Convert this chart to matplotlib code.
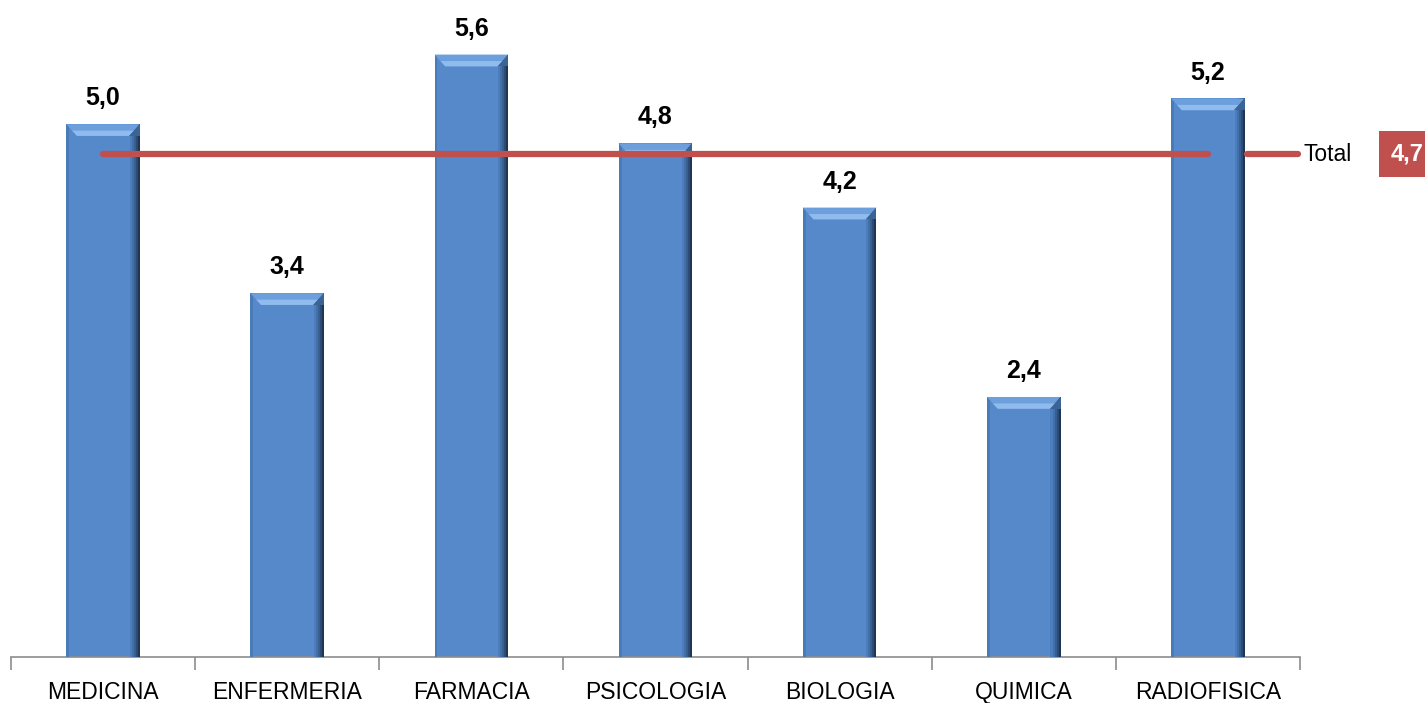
import numpy as np
import matplotlib.pyplot as plt
from matplotlib.patches import Polygon

categories = ["MEDICINA", "ENFERMERIA", "FARMACIA", "PSICOLOGIA", "BIOLOGIA", "QUIMICA", "RADIOFISICA"]
values = [4.98, 3.40, 5.63, 4.80, 4.20, 2.43, 5.22]
labels = ["5,0", "3,4", "5,6", "4,8", "4,2", "2,4", "5,2"]
total = 4.7
total_label = "4,7"

plt.rcParams['font.family'] = ['Liberation Sans', 'DejaVu Sans']

YMAX = 6.14

fig = plt.figure(figsize=(14.25, 7.03), dpi=100)
ax = fig.add_axes([11 / 1425, 46 / 703, 1289 / 1425, 657 / 703])
ax.set_xlim(-0.5, len(categories) - 0.5)
ax.set_ylim(0, YMAX)

x = np.arange(len(categories))
w = 0.4
ax.bar(x, values, width=w, color='#5589CA', zorder=2)

# left edge, slightly darker
ax.bar(x - w / 2 + 0.008, values, width=0.016, color='#4A7BB9', zorder=3)

# right-edge shading, getting darker outward
sw = 0.011
shades = ['#4C7EBD', '#4370AA', '#385F92', '#2C4B75', '#1E3553']
for i, c in enumerate(shades):
    pos = x + w / 2 - (len(shades) - i - 0.5) * sw
    ax.bar(pos, values, width=sw, color=c, zorder=3)

# top bevel
bev_h = 0.11
bev_w = 0.058
for xi, v, lab in zip(x, values, labels):
    outer = [(xi - w / 2, v), (xi + w / 2, v), (xi + w / 2 - bev_w, v - bev_h),
             (xi - w / 2 + bev_w, v - bev_h)]
    ax.add_patch(Polygon(outer, closed=True, fc='#6D9FDC', lw=0, zorder=4))
    band = [(xi - w / 2 + bev_w * 0.55, v - bev_h * 0.55), (xi + w / 2 - bev_w * 0.55, v - bev_h * 0.55),
            (xi + w / 2 - bev_w, v - bev_h), (xi - w / 2 + bev_w, v - bev_h)]
    ax.add_patch(Polygon(band, closed=True, fc='#8FBBEE', lw=0, zorder=5))
    # right bevel corner darker
    corner = [(xi + w / 2, v), (xi + w / 2, v - bev_h), (xi + w / 2 - bev_w, v - bev_h)]
    ax.add_patch(Polygon(corner, closed=True, fc='#3A6396', lw=0, zorder=5))
    ax.text(xi, v + 0.13, lab, ha='center', va='bottom', fontsize=18, fontweight='bold',
            color='black', zorder=6)

# total line
ax.plot([x[0], x[-1]], [total, total], color='#C0504D', lw=4.5, solid_capstyle='round', zorder=7)

for s in ['top', 'right', 'left']:
    ax.spines[s].set_visible(False)
ax.spines['bottom'].set_color('#8C8C8C')
ax.spines['bottom'].set_linewidth(1.2)
ax.set_yticks([])
ax.set_xticks(np.arange(-0.5, len(categories), 1.0))
ax.set_xticklabels([])
ax.tick_params(axis='x', length=9, color='#8C8C8C', width=1.2)
for xi, c in zip(x, categories):
    ax.text(xi, -0.22, c, ha='center', va='top', fontsize=16.5, color='black')

# legend-like total marker on the right
ly = 46 / 703 + total / YMAX * 657 / 703
fig.lines.append(plt.Line2D([1247 / 1425, 1298 / 1425], [ly, ly], transform=fig.transFigure,
                            color='#C0504D', lw=4.5, solid_capstyle='round'))
fig.text(1303 / 1425, ly, "Total", ha='left', va='center', fontsize=16.5, color='black')
fig.text(1391 / 1425, ly, total_label, ha='left', va='center', fontsize=17, fontweight='bold',
         color='white', bbox=dict(boxstyle='square,pad=0.5', fc='#C0504D', ec='none'))

fig.savefig('out.png', dpi=100, facecolor='white')
